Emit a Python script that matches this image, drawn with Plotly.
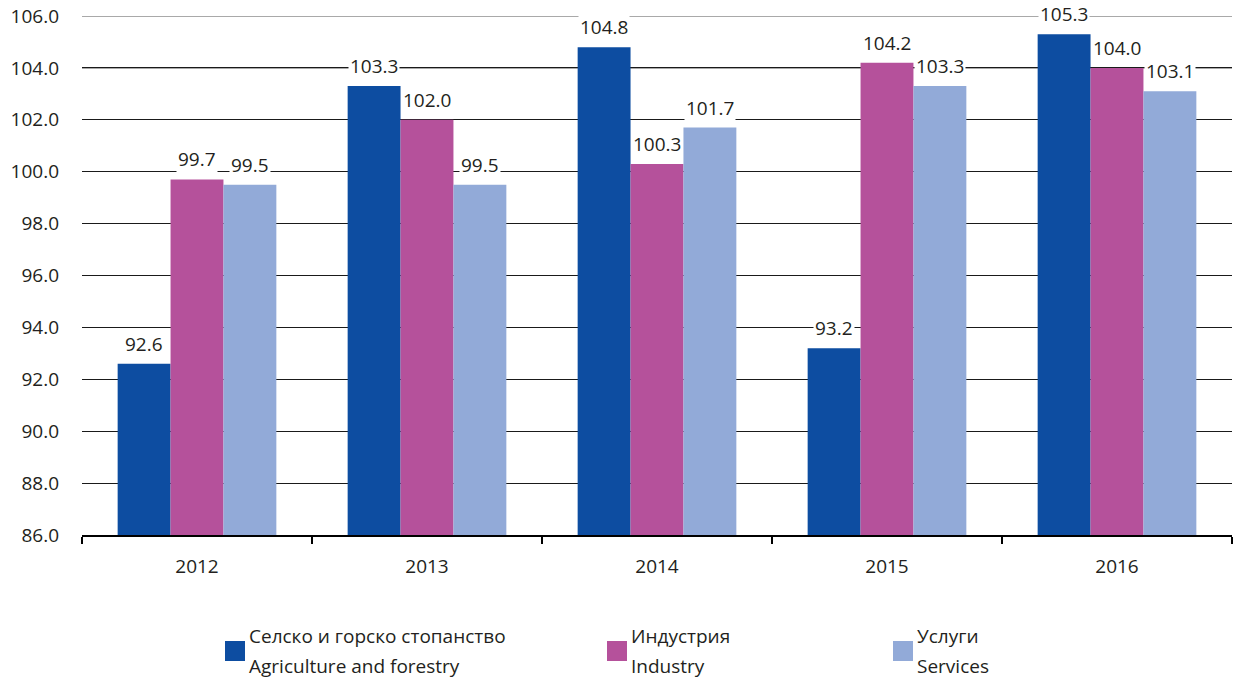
import plotly.graph_objects as go

years = ["2012", "2013", "2014", "2015", "2016"]
agriculture = [92.6, 103.3, 104.8, 93.2, 105.3]
industry = [99.7, 102.0, 100.3, 104.2, 104.0]
services = [99.5, 99.5, 101.7, 103.3, 103.1]

names_bg = ["Селско и горско стопанство", "Индустрия", "Услуги"]
names_en = ["Agriculture and forestry", "Industry", "Services"]
series_values = [agriculture, industry, services]
colors = ["#0D4DA1", "#B5519B", "#92AAD8"]

y_ticks = [86.0, 88.0, 90.0, 92.0, 94.0, 96.0, 98.0, 100.0, 102.0, 104.0, 106.0]
gray_grid = [104.0, 106.0]

W, H = 1235, 678
margin = dict(l=82, r=3, t=16, b=143)
bargap = 0.31
font_family = "Open Sans, DejaVu Sans, sans-serif"
text_color = "#231F20"

plot_w = W - margin["l"] - margin["r"]
plot_h = H - margin["t"] - margin["b"]


def px_x(px):
    return (px - margin["l"]) / plot_w


def px_y(py):
    return (H - margin["b"] - py) / plot_h


pos = list(range(len(years)))
n = len(series_values)
bar_w = (1 - bargap) / n

fig = go.Figure()
for i, (name, vals, col) in enumerate(zip(names_en, series_values, colors)):
    off = (i - (n - 1) / 2) * bar_w
    fig.add_trace(go.Bar(
        x=[p + off for p in pos], y=vals, width=bar_w, name=name,
        marker=dict(color=col, line=dict(width=0)),
        showlegend=False, hoverinfo="y",
    ))

# value labels above each bar, white box so gridlines break behind text
annotations = []
for i, vals in enumerate(series_values):
    off = (i - (n - 1) / 2) * bar_w
    for p, v in zip(pos, vals):
        annotations.append(dict(
            x=p + off, y=v, xref="x", yref="y", text=f"{v:.1f}", showarrow=False,
            yshift=5, yanchor="bottom", bgcolor="white", borderpad=1,
            font=dict(size=19, color=text_color, family=font_family),
        ))

shapes = [dict(type="line", xref="paper", yref="y", x0=0, x1=1, y0=g, y1=g,
               line=dict(color="#8C8C8C", width=1.5), layer="below") for g in gray_grid]

# bilingual legend below the plot: square swatch plus two text lines
legend_left = [225, 607, 893]
for left, col, bg, en in zip(legend_left, colors, names_bg, names_en):
    shapes.append(dict(type="rect", xref="paper", yref="paper",
                       x0=px_x(left), x1=px_x(left + 20), y0=px_y(661), y1=px_y(641),
                       fillcolor=col, line=dict(width=0)))
    for txt, ypx in ((bg, 636), (en, 666)):
        annotations.append(dict(
            x=px_x(left + 22), y=px_y(ypx), xref="paper", yref="paper", text=txt,
            showarrow=False, xanchor="left", yanchor="middle",
            font=dict(size=19, color=text_color, family=font_family),
        ))

boundaries = [p - 0.5 for p in pos] + [pos[-1] + 0.5]

fig.update_layout(
    width=W, height=H, margin=margin,
    paper_bgcolor="white", plot_bgcolor="white",
    barmode="overlay", showlegend=False,
    font=dict(family=font_family, size=18, color=text_color),
    annotations=annotations, shapes=shapes,
    xaxis=dict(
        range=[boundaries[0], boundaries[-1]], tickvals=pos, ticktext=years,
        ticks="", showline=True, linecolor="black", linewidth=2,
        showgrid=False, zeroline=False, tickfont=dict(size=19, color=text_color),
        ticklabelstandoff=13,
        minor=dict(tickvals=boundaries, ticks="outside", ticklen=7, tickwidth=2,
                   tickcolor="black", showgrid=False),
    ),
    yaxis=dict(
        range=[86, 106], tickvals=y_ticks, ticktext=[f"{t:.1f}" for t in y_ticks],
        showgrid=True, gridcolor="#1A1A1A", gridwidth=1, zeroline=False,
        showline=False, ticks="", ticklabelstandoff=22,
        tickfont=dict(size=19, color=text_color),
    ),
)

fig.write_html("out.html")
